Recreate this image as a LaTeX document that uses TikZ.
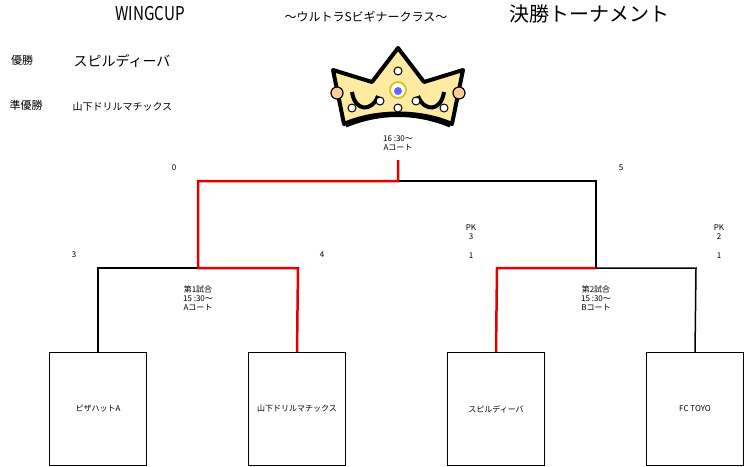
\documentclass[tikz,border=0pt]{standalone}
\usepackage{fontspec}
\setmainfont{Noto Sans CJK JP}
\begin{document}
\begin{tikzpicture}[x=1pt,y=-1pt,
  blk/.style={black,line width=1.5pt},
  red/.style={red!90!black,line width=2.5pt},
  team/.style={draw,line width=1.2pt,minimum width=97pt,minimum height=113pt,inner sep=0pt,font=\fontsize{8}{9}\selectfont},
  lab/.style={font=\fontsize{8}{9}\selectfont,align=center,inner sep=0pt}]
\useasboundingbox (0,0) rectangle (746,466);
% header
\node[font=\fontsize{19}{20}\selectfont,xscale=0.8] (t1) at (150,14) {WINGCUP};
\node[font=\fontsize{12}{13}\selectfont] (t2) at (366,17) {〜ウルトラSビギナークラス〜};
\node[font=\fontsize{20}{21}\selectfont] (t3) at (589,14) {決勝トーナメント};
\node[font=\fontsize{11}{12}\selectfont] (w1) at (22,60) {優勝};
\node[font=\fontsize{14}{15}\selectfont,anchor=west] (w2) at (70,61) {スピルディーバ};
\node[font=\fontsize{11}{12}\selectfont] (r1) at (26,105) {準優勝};
\node[font=\fontsize{10}{11}\selectfont,anchor=west] (r2) at (69,107) {山下ドリルマチックス};
% crown
\filldraw[fill=yellow!60!orange!35,draw=black,line width=4pt,line join=round]
 (333,70) -- (372,82) -- (398,48) -- (424,82) -- (463,70) -- (452,124)
 .. controls (420,110) and (376,110) .. (344,124) -- cycle;
\draw[line width=4pt] (352,92) .. controls (355,112) and (372,112) .. (378,96);
\draw[line width=4pt] (444,92) .. controls (441,112) and (424,112) .. (418,96);
\draw[line width=3pt] (346,126) .. controls (380,112) and (416,112) .. (450,126);
\foreach \p in {(398,71),(380,101),(416,101),(398,108),(352,108),(444,108)}
  \filldraw[fill=white,draw=black,line width=1pt] \p circle (4);
\filldraw[fill=orange!40,draw=black,line width=1.2pt] (337,93) circle (6);
\filldraw[fill=orange!40,draw=black,line width=1.2pt] (459,93) circle (6);
\filldraw[fill=white,draw=yellow!80!black,line width=2pt] (398,90) circle (8);
\fill[blue!60] (398,91) circle (4);
\node[lab] (fin) at (398,143) {16 :30〜\\Aコート};
% teams
\node[team] (a) at (98,409) {ピザハットA};
\node[team] (b) at (297,409) {山下ドリルマチックス};
\node[team] (c) at (496,409) {スピルディーバ};
\node[team] (d) at (695,409) {FC TOYO};
\coordinate (top) at (398,160);
% black lines
\draw[blk] (398,181) -- (596,181) -- (596,268);
\draw[blk] (198,268) -- (98,268) -- (a.north);
\draw[blk] (596,268) -- (696,268) -- (d.north);
% red
\draw[red,line join=miter] (top) -- (398,181) -- (198,181) -- (198,268) -- (298,268) -- (b.north);
\draw[red,line join=miter] (596,268) -- (497,268) -- (c.north);
% labels
\node[lab] (s0) at (174,168) {0};
\node[lab] (s5) at (621,168) {5};
\node[lab] (s3) at (74,255) {3};
\node[lab] (s4) at (322,255) {4};
\node[lab] (pk1) at (471,232) {PK\\3};
\node[lab] (s1) at (471,256) {1};
\node[lab] (pk2) at (719,232) {PK\\2};
\node[lab] (s1b) at (719,256) {1};
\node[lab] (m1) at (198,298) {第1試合\\15 :30〜\\Aコート};
\node[lab] (m2) at (596,298) {第2試合\\15 :30〜\\Bコート};
\end{tikzpicture}
\end{document}
